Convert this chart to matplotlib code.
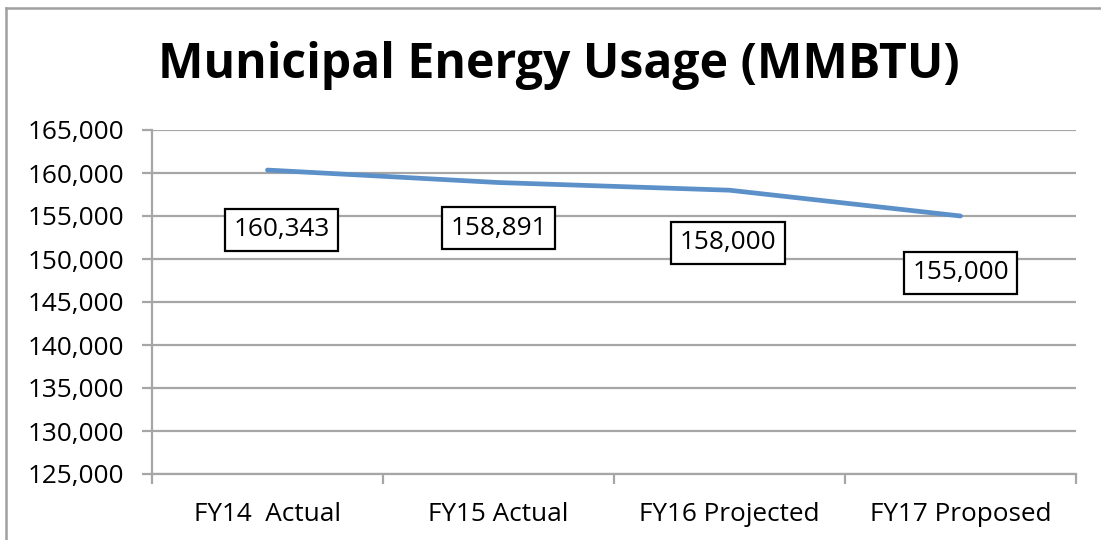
import matplotlib
matplotlib.use("Agg")
import matplotlib.pyplot as plt
from matplotlib.lines import Line2D
from matplotlib.ticker import FuncFormatter, FixedLocator
import numpy as np

categories = ["FY14  Actual", "FY15 Actual", "FY16 Projected", "FY17 Proposed"]
usage = [160343, 158891, 158000, 155000]
label_texts = ["160,343", "158,891", "158,000", "155,000"]
title = "Municipal Energy Usage (MMBTU)"

plt.rcParams['font.family'] = ['Open Sans', 'DejaVu Sans']

W, H = 1101, 540
fig = plt.figure(figsize=(W / 100, H / 100), dpi=100)
fig.patch.set_facecolor("white")

left, right, top, bottom = 152, 1076, 130, 474
ax = fig.add_axes([left / W, (H - bottom) / H, (right - left) / W, (bottom - top) / H])

grid_c = "#A6A6A6"
x = np.arange(len(categories))
ax.plot(x, usage, color="#5B90C9", lw=3.4, solid_capstyle="round", solid_joinstyle="round", zorder=3)

ax.set_xlim(-0.5, len(categories) - 0.5)
ax.set_ylim(125000, 165000)
ax.yaxis.set_major_locator(FixedLocator(np.arange(125000, 165001, 5000)))
ax.yaxis.set_major_formatter(FuncFormatter(lambda v, p: f"{int(v):,}"))
ax.grid(axis="y", color=grid_c, lw=1.6, zorder=1)
ax.set_axisbelow(True)

ax.set_xticks(np.arange(-0.5, len(categories), 1.0))
ax.set_xticklabels([])
ax.set_xticks(x, minor=True)
ax.set_xticklabels(categories, minor=True)
ax.tick_params(axis="x", which="major", length=7, width=1.6, color=grid_c, direction="out")
ax.tick_params(axis="x", which="minor", length=0, labelsize=18.8, pad=20)
ax.tick_params(axis="y", length=7, width=1.6, color=grid_c, labelsize=18.8, pad=13)

for s in ["top", "right"]:
    ax.spines[s].set_visible(False)
for s in ["left", "bottom"]:
    ax.spines[s].set_color(grid_c)
    ax.spines[s].set_linewidth(1.6)

# data label offsets in points (label box centre relative to point)
offsets = [(10, -43), (0, -33), (-1, -38), (0, -41)]
for xi, yi, t, off in zip(x, usage, label_texts, offsets):
    ax.annotate(t, (xi, yi), xytext=off, textcoords="offset points",
                ha="center", va="center", fontsize=18.8, zorder=4,
                bbox=dict(boxstyle="square,pad=0.33", fc="white", ec="black", lw=1.6))

fig.text(0.508, 1 - 66 / H, title, ha="center", va="center", fontsize=34.7, fontweight="bold")

# outer chart border (top and left visible)
fig.add_artist(Line2D([6.5 / W, 1.0], [1 - 8 / H, 1 - 8 / H], transform=fig.transFigure, color="#A0A0A0", lw=1.8))
fig.add_artist(Line2D([6.5 / W, 6.5 / W], [0, 1 - 8 / H], transform=fig.transFigure, color="#A0A0A0", lw=1.8))

fig.savefig("out.png", dpi=100)
